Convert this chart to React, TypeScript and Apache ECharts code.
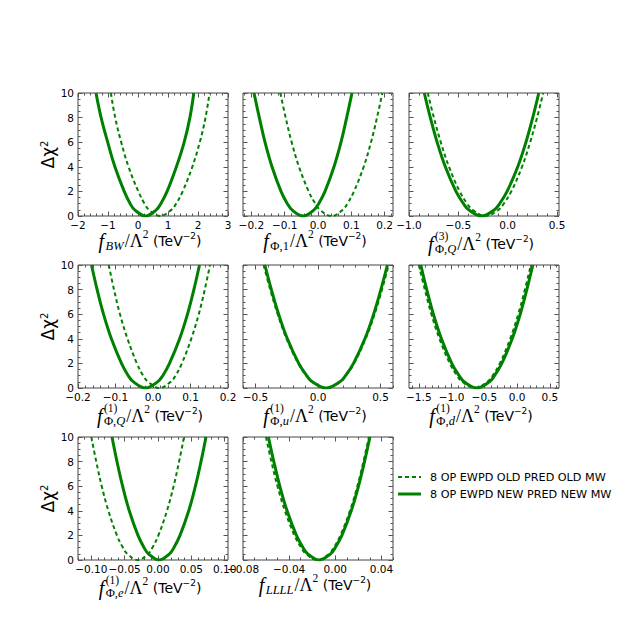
import React, { useEffect, useRef } from "react";
import * as echarts from "echarts";

// Δχ² levels at which the curve x-values were read (left branch, minimum, right branch)
const chiLevels = [10, 8, 6, 4, 2, 1, 0.5, 0, 0.5, 1, 2, 4, 6, 8, 10];

const bwOld = [-0.905, -0.76, -0.56, -0.315, 0.01, 0.22, 0.37, 0.74, 1.11, 1.27, 1.49, 1.81, 2.06, 2.25, 2.385];
const bwNew = [-1.4, -1.23, -1.01, -0.77, -0.46, -0.26, -0.11, 0.25, 0.61, 0.76, 0.97, 1.28, 1.54, 1.73, 1.86];

const phi1Old = [-0.113, -0.097, -0.079, -0.057, -0.028, -0.008, 0.006, 0.04, 0.074, 0.088, 0.108, 0.137, 0.159, 0.177, 0.193];
const phi1New = [-0.192, -0.176, -0.159, -0.138, -0.111, -0.092, -0.078, -0.045, -0.012, 0.002, 0.021, 0.048, 0.069, 0.086, 0.102];

const phiQ3Old = [-0.81, -0.748, -0.678, -0.595, -0.487, -0.41, -0.356, -0.225, -0.094, -0.04, 0.037, 0.145, 0.228, 0.298, 0.36];
const phiQ3New = [-0.845, -0.784, -0.715, -0.632, -0.524, -0.448, -0.395, -0.265, -0.135, -0.082, -0.006, 0.102, 0.185, 0.254, 0.315];

const phiQ1Old = [-0.118, -0.104, -0.088, -0.068, -0.043, -0.026, -0.013, 0.017, 0.047, 0.06, 0.077, 0.102, 0.122, 0.138, 0.152];
const phiQ1New = [-0.164, -0.149, -0.132, -0.111, -0.084, -0.066, -0.052, -0.02, 0.012, 0.026, 0.044, 0.071, 0.092, 0.109, 0.124];

const phiUOld = [-0.435, -0.382, -0.3225, -0.251, -0.1585, -0.093, -0.047, 0.065, 0.177, 0.223, 0.2885, 0.381, 0.4525, 0.512, 0.565];
const phiUNew = [-0.425, -0.373, -0.315, -0.245, -0.154, -0.09, -0.045, 0.065, 0.175, 0.22, 0.284, 0.375, 0.445, 0.503, 0.555];

const phiDOld = [-1.5, -1.409, -1.308, -1.185, -1.027, -0.915, -0.837, -0.645, -0.454, -0.375, -0.263, -0.105, 0.018, 0.119, 0.21];
const phiDNew = [-1.47, -1.379, -1.278, -1.155, -0.997, -0.885, -0.807, -0.615, -0.424, -0.345, -0.233, -0.075, 0.048, 0.149, 0.24];

const phiEOld = [-0.1, -0.0926, -0.0844, -0.0744, -0.0616, -0.0525, -0.0461, -0.0305, -0.0149, -0.0085, 0.0006, 0.0134, 0.0234, 0.0316, 0.039];
const phiENew = [-0.069, -0.0615, -0.0531, -0.0431, -0.03, -0.0208, -0.0143, 0.0015, 0.0173, 0.0238, 0.033, 0.0461, 0.0561, 0.0645, 0.072];

const llllOld = [-0.0601, -0.0554, -0.0501, -0.0437, -0.0354, -0.0296, -0.0255, -0.0155, -0.0055, -0.0014, 0.0044, 0.0127, 0.0191, 0.0244, 0.0291];
const llllNew = [-0.058, -0.0533, -0.0481, -0.0418, -0.0337, -0.0279, -0.0239, -0.014, -0.0041, -0.0001, 0.0057, 0.0138, 0.0201, 0.0253, 0.03];

const oldCurves = [bwOld, phi1Old, phiQ3Old, phiQ1Old, phiUOld, phiDOld, phiEOld, llllOld];
const newCurves = [bwNew, phi1New, phiQ3New, phiQ1New, phiUNew, phiDNew, phiENew, llllNew];

const xMins = [-2, -0.225, -1.0, -0.2, -0.6, -1.65, -0.12, -0.08];
const xMaxs = [3, 0.225, 0.52, 0.2, 0.6, 0.64, 0.105, 0.05];
const xTickLabels = [
  [-2, -1, 0, 1, 2, 3],
  [-0.2, -0.1, 0, 0.1, 0.2],
  [-1, -0.5, 0, 0.5],
  [-0.2, -0.1, 0, 0.1, 0.2],
  [-0.5, 0, 0.5],
  [-1.5, -1, -0.5, 0, 0.5],
  [-0.1, -0.05, 0, 0.05, 0.1],
  [-0.08, -0.04, 0, 0.04],
];
const xMinorSteps = [0.2, 0.02, 0.1, 0.02, 0.1, 0.1, 0.01, 0.01];
const xLabelDecimals = [0, 1, 1, 1, 1, 1, 2, 2];
const yTickLabels = [0, 2, 4, 6, 8, 10];

// x-axis title pieces: subscript parts [text, italic] and stacked superscript
const xTitleSub: [string, boolean][][] = [
  [["BW", true]],
  [["Φ,", false], ["1", false]],
  [["Φ,", false], ["Q", true]],
  [["Φ,", false], ["Q", true]],
  [["Φ,", false], ["u", true]],
  [["Φ,", false], ["d", true]],
  [["Φ,", false], ["e", true]],
  [["LLLL", true]],
];
const xTitleSup = ["", "", "(3)", "(1)", "(1)", "(1)", "(1)", ""];

const legendOld = "8 OP EWPD OLD PRED OLD MW";
const legendNew = "8 OP EWPD NEW PRED NEW MW";

const GREEN = "#008000";
const colLeft = [78, 243, 409];
const rowTop = [93, 265, 437];
const PW = 150;
const PH = 123;

const SERIF = "Liberation Serif";
const SANS = "DejaVu Sans";

function makeMeasure() {
  const ctx = document.createElement("canvas").getContext("2d")!;
  return (t: string, size: number, family: string, italic: boolean) => {
    ctx.font = `${italic ? "italic " : ""}${size}px "${family}"`;
    return ctx.measureText(t).width;
  };
}

function buildXTitle(i: number, cx: number, cy: number, measure: any) {
  const pieces: any[] = [];
  let x = 0;
  const add = (text: string, size: number, family: string, italic: boolean, dy: number, advance = true) => {
    const w = measure(text, size, family, italic);
    pieces.push({ text, x, dy, size, family, italic });
    if (advance) x += w;
    return w;
  };
  add("f", 20, SERIF, true, 0);
  x += 1.5;
  const x0 = x;
  let supW = 0;
  if (xTitleSup[i]) supW = add(xTitleSup[i], 11.5, SERIF, false, -8, false);
  xTitleSub[i].forEach(([t, it]) => add(t, 12.5, SERIF, it, 4.5));
  const subW = x - x0;
  x = x0 + Math.max(subW, supW) + 1;
  add("/Λ", 18, SERIF, false, 0);
  add("2", 11.5, SERIF, false, -7);
  add(" (TeV", 14, SANS, false, 0);
  add("−2", 9, SANS, false, -5.5);
  add(")", 14, SANS, false, 0);
  const total = x;
  return {
    type: "group",
    x: cx - total / 2,
    y: cy,
    children: pieces.map((p) => ({
      type: "text",
      x: p.x,
      y: p.dy,
      style: {
        text: p.text,
        fontSize: p.size,
        fontFamily: p.family,
        fontStyle: p.italic ? "italic" : "normal",
        fill: "#000",
        align: "left",
        verticalAlign: "middle",
      },
    })),
  };
}

function fmt(v: number, d: number) {
  const s = Math.abs(v) < 1e-12 ? (0).toFixed(d) : v.toFixed(d);
  return s.replace("-", "−");
}

export default function App() {
  const ref = useRef<HTMLDivElement>(null);
  useEffect(() => {
    if (!ref.current) return;
    const chart = echarts.init(ref.current, undefined, { renderer: "svg" });
    const measure = makeMeasure();
    const grid: any[] = [];
    const xAxis: any[] = [];
    const yAxis: any[] = [];
    const series: any[] = [];
    const graphic: any[] = [];
    const tickColor = "#555";

    for (let i = 0; i < 8; i++) {
      const col = i % 3;
      const row = Math.floor(i / 3);
      grid.push({
        left: colLeft[col],
        top: rowTop[row],
        width: PW,
        height: PH,
        show: true,
        borderColor: "#444",
        borderWidth: 1,
        backgroundColor: "transparent",
      });
      const step = xMinorSteps[i];
      const minors: number[] = [];
      for (let k = Math.ceil(xMins[i] / step - 1e-9); k * step <= xMaxs[i] + 1e-9; k++) {
        minors.push(+(k * step).toFixed(6));
      }
      const base = {
        type: "value",
        gridIndex: i,
        min: xMins[i],
        max: xMaxs[i],
        splitLine: { show: false },
        axisLine: { show: false, onZero: false },
      };
      const d = xLabelDecimals[i];
      xAxis.push({
        ...base,
        position: "bottom",
        axisTick: { inside: true, length: 4.5, customValues: xTickLabels[i], lineStyle: { color: tickColor } },
        axisLabel: {
          customValues: xTickLabels[i],
          formatter: (v: number) => fmt(v, d),
          margin: 3,
          fontSize: 10.5,
          lineHeight: 11,
          color: "#000",
          fontFamily: SANS,
        },
      });
      xAxis.push({
        ...base,
        position: "bottom",
        axisTick: { inside: true, length: 2.5, customValues: minors, lineStyle: { color: tickColor } },
        axisLabel: { show: false },
      });
      xAxis.push({
        ...base,
        position: "top",
        axisTick: { inside: true, length: 4.5, customValues: xTickLabels[i], lineStyle: { color: tickColor } },
        axisLabel: { show: false },
      });
      xAxis.push({
        ...base,
        position: "top",
        axisTick: { inside: true, length: 2.5, customValues: minors, lineStyle: { color: tickColor } },
        axisLabel: { show: false },
      });
      const ybase = {
        type: "value",
        gridIndex: i,
        min: 0,
        max: 10,
        interval: 2,
        splitLine: { show: false },
        minorSplitLine: { show: false },
        axisLine: { show: false, onZero: false },
        axisTick: { inside: true, length: 4.5, lineStyle: { color: tickColor } },
        minorTick: { show: true, splitNumber: 4, length: 2.5, lineStyle: { color: tickColor } },
      };
      yAxis.push({
        ...ybase,
        position: "left",
        axisLabel: {
          show: col === 0,
          customValues: yTickLabels,
          margin: 4,
          fontSize: 10.5,
          color: "#000",
          fontFamily: SANS,
        },
        name: col === 0 ? "{a|Δχ}{s|2}" : "",
        nameLocation: "middle",
        nameRotate: 90,
        nameGap: 21,
        nameTextStyle: {
          rich: {
            a: { fontSize: 17, fontFamily: SANS, color: "#000" },
            s: { fontSize: 10, fontFamily: SANS, color: "#000", verticalAlign: "top", padding: [0, 0, 7, 0] },
          },
        },
      });
      yAxis.push({ ...ybase, position: "right", axisLabel: { show: false } });

      series.push({
        type: "line",
        name: legendOld,
        xAxisIndex: 4 * i,
        yAxisIndex: 2 * i,
        data: oldCurves[i].map((x, k) => [x, chiLevels[k]]),
        smooth: 0.4,
        showSymbol: false,
        symbol: "none",
        lineStyle: { color: GREEN, width: 2, type: [4, 3] },
        z: 2,
      });
      series.push({
        type: "line",
        name: legendNew,
        xAxisIndex: 4 * i,
        yAxisIndex: 2 * i,
        data: newCurves[i].map((x, k) => [x, chiLevels[k]]),
        smooth: 0.4,
        showSymbol: false,
        symbol: "none",
        lineStyle: { color: GREEN, width: 3, type: "solid" },
        z: 3,
      });

      const cx = colLeft[col] + PW / 2 - 3;
      const cy = rowTop[row] + PH + (xTitleSup[i] ? 28 : 25);
      graphic.push(buildXTitle(i, cx, cy, measure));
    }

    // legend
    graphic.push({ type: "line", shape: { x1: 398, y1: 477, x2: 421, y2: 477 }, style: { stroke: GREEN, lineWidth: 2, lineDash: [4, 3] } });
    graphic.push({ type: "line", shape: { x1: 398, y1: 494, x2: 421, y2: 494 }, style: { stroke: GREEN, lineWidth: 3 } });
    graphic.push({ type: "text", x: 430, y: 477, style: { text: legendOld, fontSize: 11.2, fontFamily: SANS, fill: "#000", verticalAlign: "middle" } });
    graphic.push({ type: "text", x: 430, y: 494, style: { text: legendNew, fontSize: 11.2, fontFamily: SANS, fill: "#000", verticalAlign: "middle" } });

    chart.setOption({
      animation: false,
      backgroundColor: "#fff",
      grid,
      xAxis,
      yAxis,
      series,
      graphic,
    });
    return () => chart.dispose();
  }, []);
  return <div ref={ref} style={{ position: "fixed", left: 0, top: 0, width: 623, height: 623 }} />;
}
